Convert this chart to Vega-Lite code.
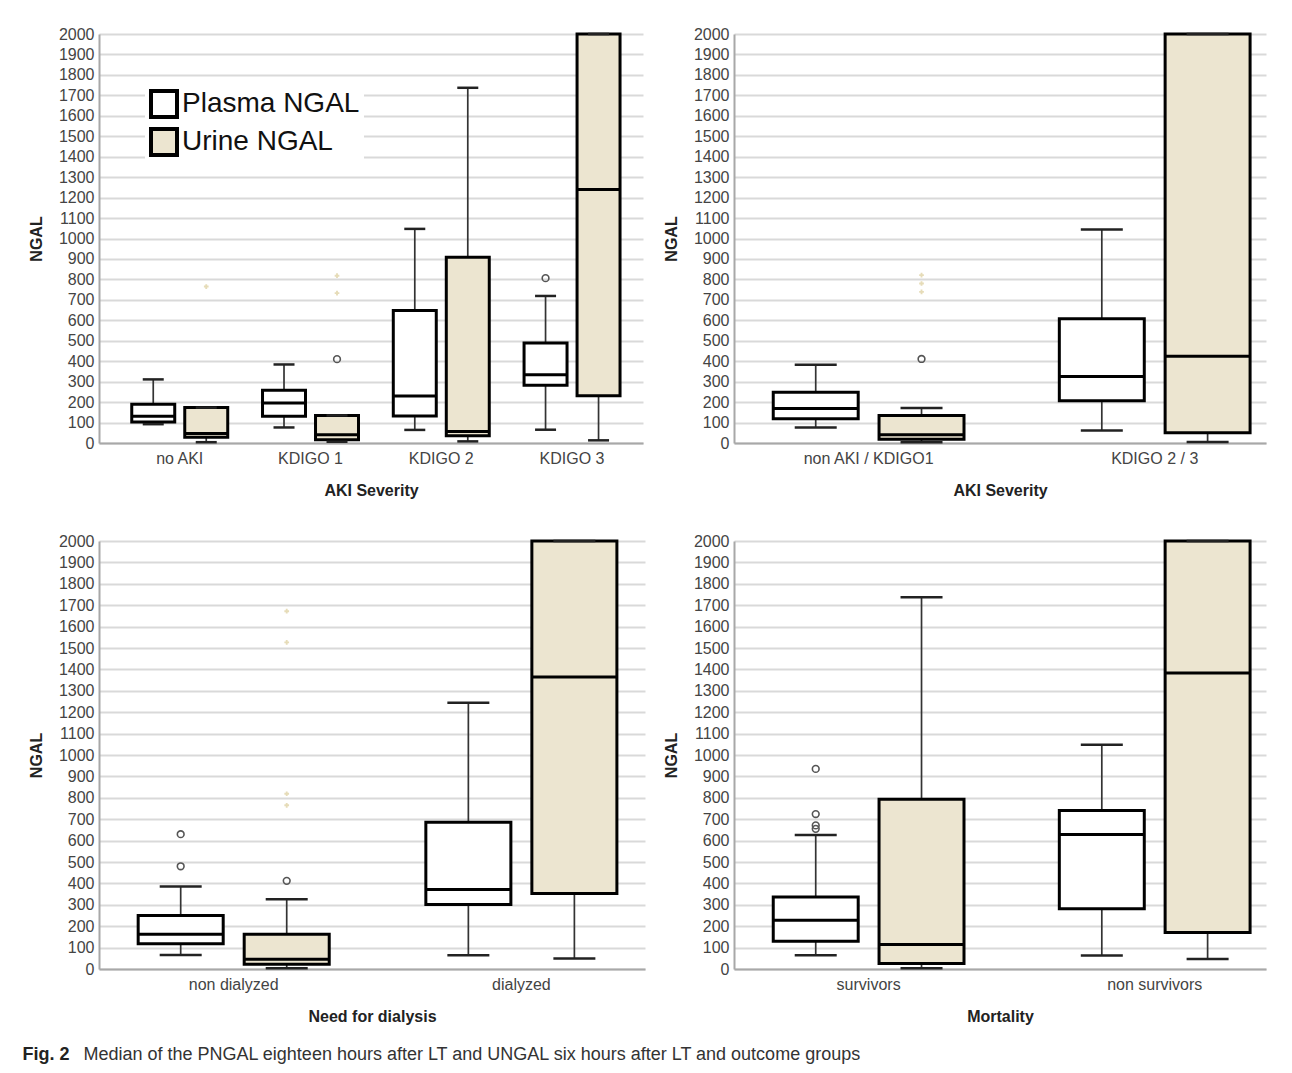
{
  "$schema": "https://vega.github.io/schema/vega-lite/v6.json",
  "background": "white",
  "padding": {"left": 22, "top": 26, "right": 5, "bottom": 5},
  "datasets": {
    "p1": [
      {"group": "no AKI", "type": "Plasma NGAL", "min": 92, "q1": 103, "median": 131, "q3": 189, "max": 311},
      {"group": "no AKI", "type": "Urine NGAL", "min": 4, "q1": 28, "median": 47, "q3": 173, "max": 173},
      {"group": "KDIGO 1", "type": "Plasma NGAL", "min": 76, "q1": 131, "median": 196, "q3": 258, "max": 384},
      {"group": "KDIGO 1", "type": "Urine NGAL", "min": 6, "q1": 16, "median": 40, "q3": 135, "max": 135},
      {"group": "KDIGO 2", "type": "Plasma NGAL", "min": 64, "q1": 132, "median": 230, "q3": 648, "max": 1047},
      {"group": "KDIGO 2", "type": "Urine NGAL", "min": 8, "q1": 35, "median": 56, "q3": 908, "max": 1737},
      {"group": "KDIGO 3", "type": "Plasma NGAL", "min": 65, "q1": 282, "median": 334, "q3": 489, "max": 719},
      {"group": "KDIGO 3", "type": "Urine NGAL", "min": 13, "q1": 231, "median": 1239, "q3": 2000, "max": 2000}
    ],
    "p1out": [
      {"group": "KDIGO 1", "type": "Urine NGAL", "value": 410, "kind": "outlier"},
      {"group": "KDIGO 3", "type": "Plasma NGAL", "value": 806, "kind": "outlier"},
      {"group": "no AKI", "type": "Urine NGAL", "value": 765, "kind": "extreme"},
      {"group": "KDIGO 1", "type": "Urine NGAL", "value": 818, "kind": "extreme"},
      {"group": "KDIGO 1", "type": "Urine NGAL", "value": 733, "kind": "extreme"}
    ],
    "p2": [
      {"group": "non AKI / KDIGO1", "type": "Plasma NGAL", "min": 76, "q1": 118, "median": 169, "q3": 248, "max": 383},
      {"group": "non AKI / KDIGO1", "type": "Urine NGAL", "min": 4, "q1": 18, "median": 40, "q3": 134, "max": 171},
      {"group": "KDIGO 2 / 3", "type": "Plasma NGAL", "min": 61, "q1": 207, "median": 325, "q3": 608, "max": 1044},
      {"group": "KDIGO 2 / 3", "type": "Urine NGAL", "min": 5, "q1": 50, "median": 424, "q3": 2000, "max": 2000}
    ],
    "p2out": [
      {"group": "non AKI / KDIGO1", "type": "Urine NGAL", "value": 411, "kind": "outlier"},
      {"group": "non AKI / KDIGO1", "type": "Urine NGAL", "value": 821, "kind": "extreme"},
      {"group": "non AKI / KDIGO1", "type": "Urine NGAL", "value": 780, "kind": "extreme"},
      {"group": "non AKI / KDIGO1", "type": "Urine NGAL", "value": 739, "kind": "extreme"}
    ],
    "p3": [
      {"group": "non dialyzed", "type": "Plasma NGAL", "min": 65, "q1": 118, "median": 162, "q3": 250, "max": 385},
      {"group": "non dialyzed", "type": "Urine NGAL", "min": 3, "q1": 22, "median": 46, "q3": 162, "max": 326},
      {"group": "dialyzed", "type": "Plasma NGAL", "min": 64, "q1": 301, "median": 372, "q3": 686, "max": 1244},
      {"group": "dialyzed", "type": "Urine NGAL", "min": 49, "q1": 353, "median": 1364, "q3": 2000, "max": 2000}
    ],
    "p3out": [
      {"group": "non dialyzed", "type": "Plasma NGAL", "value": 630, "kind": "outlier"},
      {"group": "non dialyzed", "type": "Plasma NGAL", "value": 480, "kind": "outlier"},
      {"group": "non dialyzed", "type": "Urine NGAL", "value": 412, "kind": "outlier"},
      {"group": "non dialyzed", "type": "Urine NGAL", "value": 1672, "kind": "extreme"},
      {"group": "non dialyzed", "type": "Urine NGAL", "value": 1526, "kind": "extreme"},
      {"group": "non dialyzed", "type": "Urine NGAL", "value": 819, "kind": "extreme"},
      {"group": "non dialyzed", "type": "Urine NGAL", "value": 765, "kind": "extreme"}
    ],
    "p4": [
      {"group": "survivors", "type": "Plasma NGAL", "min": 64, "q1": 130, "median": 228, "q3": 336, "max": 626},
      {"group": "survivors", "type": "Urine NGAL", "min": 3, "q1": 26, "median": 115, "q3": 793, "max": 1737},
      {"group": "non survivors", "type": "Plasma NGAL", "min": 63, "q1": 281, "median": 629, "q3": 741, "max": 1048},
      {"group": "non survivors", "type": "Urine NGAL", "min": 47, "q1": 171, "median": 1383, "q3": 2000, "max": 2000}
    ],
    "p4out": [
      {"group": "survivors", "type": "Plasma NGAL", "value": 935, "kind": "outlier"},
      {"group": "survivors", "type": "Plasma NGAL", "value": 724, "kind": "outlier"},
      {"group": "survivors", "type": "Plasma NGAL", "value": 671, "kind": "outlier"},
      {"group": "survivors", "type": "Plasma NGAL", "value": 655, "kind": "outlier"}
    ]
  },
  "title": {
    "text": "Median of the PNGAL eighteen hours after LT and UNGAL six hours after LT and outcome groups",
    "orient": "bottom",
    "anchor": "start",
    "frame": "bounds",
    "offset": -18,
    "dx": 61,
    "font": "Liberation Sans",
    "fontSize": 18,
    "fontWeight": "normal",
    "color": "#333333"
  },
  "config": {
    "view": {"stroke": null},
    "axis": {
      "domainColor": "#a8a8a8",
      "domainWidth": 2,
      "ticks": false,
      "gridColor": "#d9d9d9",
      "gridWidth": 2,
      "labelColor": "#444444",
      "labelFont": "Liberation Sans",
      "labelFontSize": 16,
      "titleFont": "Liberation Sans",
      "titleFontSize": 16,
      "titleFontWeight": "bold",
      "titleColor": "#222222"
    },
    "axisX": {"grid": false, "labelAngle": 0, "labelPadding": 7, "titlePadding": 16},
    "axisY": {"labelPadding": 5, "titlePadding": 14, "labelOverlap": false, "tickCount": 25, "format": "d"}
  },
  "resolve": {
    "scale": {"fill": "independent"},
    "legend": {"fill": "independent"}
  },
  "vconcat": [
    {
      "title": {
        "text": "Fig. 2",
        "orient": "bottom",
        "anchor": "start",
        "frame": "bounds",
        "offset": 22,
        "dx": -6,
        "font": "Liberation Sans",
        "fontSize": 18,
        "fontWeight": "bold",
        "color": "#222222"
      },
      "concat": [
        {
          "width": 544,
          "height": 409,
          "encoding": {
            "x": {"field": "group", "type": "nominal", "title": "AKI Severity",
                  "scale": {"domain": ["no AKI", "KDIGO 1", "KDIGO 2", "KDIGO 3"], "paddingInner": 0.2, "paddingOuter": 0.18, "align": 0.604}},
            "xOffset": {"field": "type", "type": "nominal",
                  "scale": {"domain": ["Plasma NGAL", "Urine NGAL"], "paddingInner": 0.189, "paddingOuter": 0.0815}}
          },
          "layer": [
            {"data": {"name": "p1"}, "mark": {"type": "rule", "color": "#333333", "strokeWidth": 1.7},
             "encoding": {"y": {"field": "min", "type": "quantitative", "title": "NGAL",
                                "scale": {"domain": [0, 2000], "nice": false},
                                "axis": {"format": "d", "labelOverlap": false, "tickCount": 25, "values": [0,100,200,300,400,500,600,700,800,900,1000,1100,1200,1300,1400,1500,1600,1700,1800,1900,2000]}},
                          "y2": {"field": "q1"}}},
            {"data": {"name": "p1"}, "mark": {"type": "rule", "color": "#333333", "strokeWidth": 1.7},
             "encoding": {"y": {"field": "q3", "type": "quantitative", "title": "NGAL", "axis": {"format": "d", "labelOverlap": false, "tickCount": 25, "values": [0,100,200,300,400,500,600,700,800,900,1000,1100,1200,1300,1400,1500,1600,1700,1800,1900,2000]}}, "y2": {"field": "max"}}},
            {"data": {"name": "p1"}, "mark": {"type": "bar", "stroke": "black", "strokeWidth": 3, "opacity": 1},
             "encoding": {"y": {"field": "q1", "type": "quantitative", "title": "NGAL", "axis": {"format": "d", "labelOverlap": false, "tickCount": 25, "values": [0,100,200,300,400,500,600,700,800,900,1000,1100,1200,1300,1400,1500,1600,1700,1800,1900,2000]}}, "y2": {"field": "q3"},
                          "fill": {"field": "type", "type": "nominal",
                                   "scale": {"domain": ["Plasma NGAL", "Urine NGAL"], "range": ["#ffffff", "#ece5d0"]},
                                   "legend": {"title": null, "orient": "none", "legendX": 46, "legendY": 51,
                                              "symbolType": "square", "symbolSize": 676, "symbolStrokeColor": "black",
                                              "symbolStrokeWidth": 4, "labelFontSize": 28, "labelFont": "Liberation Sans",
                                              "labelColor": "#111111", "labelOffset": 3, "labelLimit": 400, "rowPadding": -4,
                                              "fillColor": "white", "padding": 4}}}},
            {"data": {"name": "p1"}, "mark": {"type": "tick", "color": "black", "thickness": 3, "size": 43, "opacity": 1},
             "encoding": {"y": {"field": "median", "type": "quantitative", "title": "NGAL"}}},
            {"data": {"name": "p1"}, "mark": {"type": "tick", "color": "#222222", "thickness": 2.5, "size": 21, "opacity": 1},
             "encoding": {"y": {"field": "min", "type": "quantitative", "title": "NGAL"}}},
            {"data": {"name": "p1"}, "mark": {"type": "tick", "color": "#222222", "thickness": 2.5, "size": 21, "opacity": 1},
             "encoding": {"y": {"field": "max", "type": "quantitative", "title": "NGAL"}}},
            {"data": {"name": "p1out"}, "transform": [{"filter": "datum.kind === 'outlier'"}],
             "mark": {"type": "point", "shape": "circle", "filled": false, "color": "#555555", "strokeWidth": 1.6, "size": 45, "opacity": 1},
             "encoding": {"y": {"field": "value", "type": "quantitative", "title": "NGAL"}}},
            {"data": {"name": "p1out"}, "transform": [{"filter": "datum.kind === 'extreme'"}],
             "mark": {"type": "point", "shape": "cross", "filled": true, "color": "#e6dcb8", "size": 22, "opacity": 1},
             "encoding": {"y": {"field": "value", "type": "quantitative", "title": "NGAL"}}}
          ]
        },
        {
          "width": 532,
          "height": 409,
          "encoding": {
            "x": {"field": "group", "type": "nominal", "title": "AKI Severity",
                  "scale": {"domain": ["non AKI / KDIGO1", "KDIGO 2 / 3"], "paddingInner": 0.25, "paddingOuter": 0.0548, "align": 0.872}},
            "xOffset": {"field": "type", "type": "nominal",
                  "scale": {"domain": ["Plasma NGAL", "Urine NGAL"], "paddingInner": 0.197, "paddingOuter": 0.1125}}
          },
          "layer": [
            {"data": {"name": "p2"}, "mark": {"type": "rule", "color": "#333333", "strokeWidth": 1.7},
             "encoding": {"y": {"field": "min", "type": "quantitative", "title": "NGAL",
                                "scale": {"domain": [0, 2000], "nice": false},
                                "axis": {"format": "d", "labelOverlap": false, "tickCount": 25, "values": [0,100,200,300,400,500,600,700,800,900,1000,1100,1200,1300,1400,1500,1600,1700,1800,1900,2000]}},
                          "y2": {"field": "q1"}}},
            {"data": {"name": "p2"}, "mark": {"type": "rule", "color": "#333333", "strokeWidth": 1.7},
             "encoding": {"y": {"field": "q3", "type": "quantitative", "title": "NGAL", "axis": {"format": "d", "labelOverlap": false, "tickCount": 25, "values": [0,100,200,300,400,500,600,700,800,900,1000,1100,1200,1300,1400,1500,1600,1700,1800,1900,2000]}}, "y2": {"field": "max"}}},
            {"data": {"name": "p2"}, "mark": {"type": "bar", "stroke": "black", "strokeWidth": 3, "opacity": 1},
             "encoding": {"y": {"field": "q1", "type": "quantitative", "title": "NGAL", "axis": {"format": "d", "labelOverlap": false, "tickCount": 25, "values": [0,100,200,300,400,500,600,700,800,900,1000,1100,1200,1300,1400,1500,1600,1700,1800,1900,2000]}}, "y2": {"field": "q3"},
                          "fill": {"field": "type", "type": "nominal",
                                   "scale": {"domain": ["Plasma NGAL", "Urine NGAL"], "range": ["#ffffff", "#ece5d0"]},
                                   "legend": null}}},
            {"data": {"name": "p2"}, "mark": {"type": "tick", "color": "black", "thickness": 3, "size": 85, "opacity": 1},
             "encoding": {"y": {"field": "median", "type": "quantitative", "title": "NGAL"}}},
            {"data": {"name": "p2"}, "mark": {"type": "tick", "color": "#222222", "thickness": 2.5, "size": 42, "opacity": 1},
             "encoding": {"y": {"field": "min", "type": "quantitative", "title": "NGAL"}}},
            {"data": {"name": "p2"}, "mark": {"type": "tick", "color": "#222222", "thickness": 2.5, "size": 42, "opacity": 1},
             "encoding": {"y": {"field": "max", "type": "quantitative", "title": "NGAL"}}},
            {"data": {"name": "p2out"}, "transform": [{"filter": "datum.kind === 'outlier'"}],
             "mark": {"type": "point", "shape": "circle", "filled": false, "color": "#555555", "strokeWidth": 1.6, "size": 45, "opacity": 1},
             "encoding": {"y": {"field": "value", "type": "quantitative", "title": "NGAL"}}},
            {"data": {"name": "p2out"}, "transform": [{"filter": "datum.kind === 'extreme'"}],
             "mark": {"type": "point", "shape": "cross", "filled": true, "color": "#e6dcb8", "size": 22, "opacity": 1},
             "encoding": {"y": {"field": "value", "type": "quantitative", "title": "NGAL"}}}
          ]
        },
        {
          "width": 546,
          "height": 428,
          "encoding": {
            "x": {"field": "group", "type": "nominal", "title": "Need for dialysis",
                  "scale": {"domain": ["non dialyzed", "dialyzed"], "paddingInner": 0.25, "paddingOuter": 0.074, "align": 0.63}},
            "xOffset": {"field": "type", "type": "nominal",
                  "scale": {"domain": ["Plasma NGAL", "Urine NGAL"], "paddingInner": 0.198, "paddingOuter": 0.1165}}
          },
          "layer": [
            {"data": {"name": "p3"}, "mark": {"type": "rule", "color": "#333333", "strokeWidth": 1.7},
             "encoding": {"y": {"field": "min", "type": "quantitative", "title": "NGAL",
                                "scale": {"domain": [0, 2000], "nice": false},
                                "axis": {"format": "d", "labelOverlap": false, "tickCount": 25, "values": [0,100,200,300,400,500,600,700,800,900,1000,1100,1200,1300,1400,1500,1600,1700,1800,1900,2000]}},
                          "y2": {"field": "q1"}}},
            {"data": {"name": "p3"}, "mark": {"type": "rule", "color": "#333333", "strokeWidth": 1.7},
             "encoding": {"y": {"field": "q3", "type": "quantitative", "title": "NGAL", "axis": {"format": "d", "labelOverlap": false, "tickCount": 25, "values": [0,100,200,300,400,500,600,700,800,900,1000,1100,1200,1300,1400,1500,1600,1700,1800,1900,2000]}}, "y2": {"field": "max"}}},
            {"data": {"name": "p3"}, "mark": {"type": "bar", "stroke": "black", "strokeWidth": 3, "opacity": 1},
             "encoding": {"y": {"field": "q1", "type": "quantitative", "title": "NGAL", "axis": {"format": "d", "labelOverlap": false, "tickCount": 25, "values": [0,100,200,300,400,500,600,700,800,900,1000,1100,1200,1300,1400,1500,1600,1700,1800,1900,2000]}}, "y2": {"field": "q3"},
                          "fill": {"field": "type", "type": "nominal",
                                   "scale": {"domain": ["Plasma NGAL", "Urine NGAL"], "range": ["#ffffff", "#ece5d0"]},
                                   "legend": null}}},
            {"data": {"name": "p3"}, "mark": {"type": "tick", "color": "black", "thickness": 3, "size": 85, "opacity": 1},
             "encoding": {"y": {"field": "median", "type": "quantitative", "title": "NGAL"}}},
            {"data": {"name": "p3"}, "mark": {"type": "tick", "color": "#222222", "thickness": 2.5, "size": 42, "opacity": 1},
             "encoding": {"y": {"field": "min", "type": "quantitative", "title": "NGAL"}}},
            {"data": {"name": "p3"}, "mark": {"type": "tick", "color": "#222222", "thickness": 2.5, "size": 42, "opacity": 1},
             "encoding": {"y": {"field": "max", "type": "quantitative", "title": "NGAL"}}},
            {"data": {"name": "p3out"}, "transform": [{"filter": "datum.kind === 'outlier'"}],
             "mark": {"type": "point", "shape": "circle", "filled": false, "color": "#555555", "strokeWidth": 1.6, "size": 45, "opacity": 1},
             "encoding": {"y": {"field": "value", "type": "quantitative", "title": "NGAL"}}},
            {"data": {"name": "p3out"}, "transform": [{"filter": "datum.kind === 'extreme'"}],
             "mark": {"type": "point", "shape": "cross", "filled": true, "color": "#e6dcb8", "size": 22, "opacity": 1},
             "encoding": {"y": {"field": "value", "type": "quantitative", "title": "NGAL"}}}
          ]
        },
        {
          "width": 532,
          "height": 428,
          "encoding": {
            "x": {"field": "group", "type": "nominal", "title": "Mortality",
                  "scale": {"domain": ["survivors", "non survivors"], "paddingInner": 0.25, "paddingOuter": 0.0548, "align": 0.872}},
            "xOffset": {"field": "type", "type": "nominal",
                  "scale": {"domain": ["Plasma NGAL", "Urine NGAL"], "paddingInner": 0.197, "paddingOuter": 0.1125}}
          },
          "layer": [
            {"data": {"name": "p4"}, "mark": {"type": "rule", "color": "#333333", "strokeWidth": 1.7},
             "encoding": {"y": {"field": "min", "type": "quantitative", "title": "NGAL",
                                "scale": {"domain": [0, 2000], "nice": false},
                                "axis": {"format": "d", "labelOverlap": false, "tickCount": 25, "values": [0,100,200,300,400,500,600,700,800,900,1000,1100,1200,1300,1400,1500,1600,1700,1800,1900,2000]}},
                          "y2": {"field": "q1"}}},
            {"data": {"name": "p4"}, "mark": {"type": "rule", "color": "#333333", "strokeWidth": 1.7},
             "encoding": {"y": {"field": "q3", "type": "quantitative", "title": "NGAL", "axis": {"format": "d", "labelOverlap": false, "tickCount": 25, "values": [0,100,200,300,400,500,600,700,800,900,1000,1100,1200,1300,1400,1500,1600,1700,1800,1900,2000]}}, "y2": {"field": "max"}}},
            {"data": {"name": "p4"}, "mark": {"type": "bar", "stroke": "black", "strokeWidth": 3, "opacity": 1},
             "encoding": {"y": {"field": "q1", "type": "quantitative", "title": "NGAL", "axis": {"format": "d", "labelOverlap": false, "tickCount": 25, "values": [0,100,200,300,400,500,600,700,800,900,1000,1100,1200,1300,1400,1500,1600,1700,1800,1900,2000]}}, "y2": {"field": "q3"},
                          "fill": {"field": "type", "type": "nominal",
                                   "scale": {"domain": ["Plasma NGAL", "Urine NGAL"], "range": ["#ffffff", "#ece5d0"]},
                                   "legend": null}}},
            {"data": {"name": "p4"}, "mark": {"type": "tick", "color": "black", "thickness": 3, "size": 85, "opacity": 1},
             "encoding": {"y": {"field": "median", "type": "quantitative", "title": "NGAL"}}},
            {"data": {"name": "p4"}, "mark": {"type": "tick", "color": "#222222", "thickness": 2.5, "size": 42, "opacity": 1},
             "encoding": {"y": {"field": "min", "type": "quantitative", "title": "NGAL"}}},
            {"data": {"name": "p4"}, "mark": {"type": "tick", "color": "#222222", "thickness": 2.5, "size": 42, "opacity": 1},
             "encoding": {"y": {"field": "max", "type": "quantitative", "title": "NGAL"}}},
            {"data": {"name": "p4out"}, "transform": [{"filter": "datum.kind === 'outlier'"}],
             "mark": {"type": "point", "shape": "circle", "filled": false, "color": "#555555", "strokeWidth": 1.6, "size": 45, "opacity": 1},
             "encoding": {"y": {"field": "value", "type": "quantitative", "title": "NGAL"}}}
          ]
        }
      ],
      "columns": 2,
      "align": "each",
      "spacing": {"row": 35, "column": 18},
      "resolve": {
        "scale": {"x": "independent", "y": "independent", "xOffset": "independent", "fill": "independent"},
        "legend": {"fill": "independent"}
      }
    }
  ]
}
